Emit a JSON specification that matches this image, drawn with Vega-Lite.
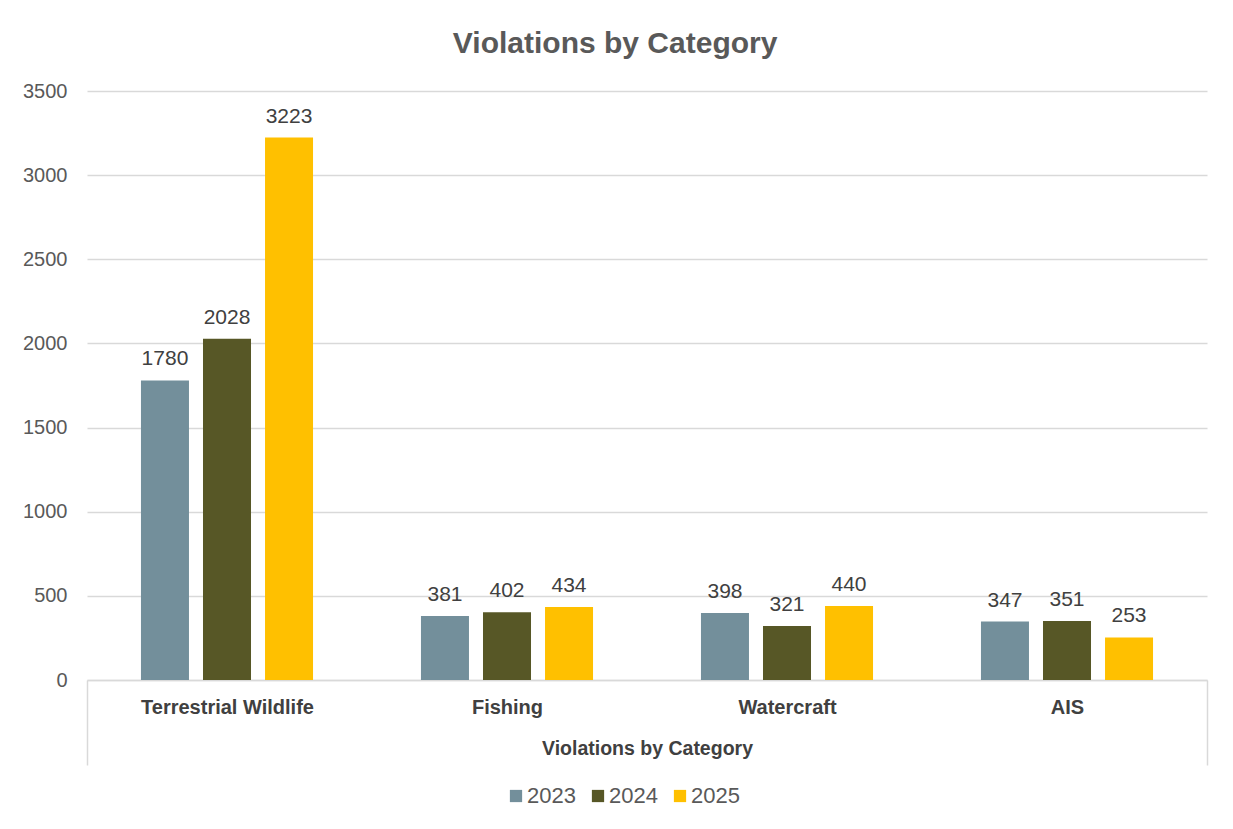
{
  "$schema": "https://vega.github.io/schema/vega-lite/v6.json",
  "width": 1120,
  "height": 589,
  "padding": {"left": 22, "top": 29, "right": 26, "bottom": 20},
  "background": "white",
  "title": {"text": "Violations by Category", "fontSize": 30, "font": "Liberation Sans", "fontWeight": "bold", "color": "#595959", "anchor": "middle", "frame": "bounds", "offset": 22},
  "config": {"view": {"stroke": null}, "font": "Liberation Sans"},
  "data": {"values": [
    {"category": "Terrestrial Wildlife", "year": "2023", "value": 1780},
    {"category": "Terrestrial Wildlife", "year": "2024", "value": 2028},
    {"category": "Terrestrial Wildlife", "year": "2025", "value": 3223},
    {"category": "Fishing", "year": "2023", "value": 381},
    {"category": "Fishing", "year": "2024", "value": 402},
    {"category": "Fishing", "year": "2025", "value": 434},
    {"category": "Watercraft", "year": "2023", "value": 398},
    {"category": "Watercraft", "year": "2024", "value": 321},
    {"category": "Watercraft", "year": "2025", "value": 440},
    {"category": "AIS", "year": "2023", "value": 347},
    {"category": "AIS", "year": "2024", "value": 351},
    {"category": "AIS", "year": "2025", "value": 253}
  ]},
  "encoding": {
    "x": {
      "field": "category", "type": "nominal",
      "sort": ["Terrestrial Wildlife", "Fishing", "Watercraft", "AIS"],
      "scale": {"paddingInner": 0, "paddingOuter": 0},
      "axis": {
        "title": "Violations by Category",
        "titleFontSize": 19.5, "titleFontWeight": "bold", "titleColor": "#404040",
        "titleY": 68, "titleBaseline": "middle",
        "labelAngle": 0, "labelFontSize": 20, "labelFontWeight": "bold", "labelColor": "#404040",
        "labelPadding": -68,
        "domainColor": "#d9d9d9", "domainWidth": 1.5,
        "ticks": true, "tickBand": "extent", "tickSize": 85, "tickWidth": 1.5,
        "tickColor": {"condition": {"test": "datum.index < 0 || datum.index === 1", "value": "#d9d9d9"}, "value": "transparent"},
        "grid": false
      }
    },
    "xOffset": {"field": "year", "type": "nominal", "scale": {"paddingInner": 0.226, "paddingOuter": 0.87}},
    "y": {
      "field": "value", "type": "quantitative",
      "scale": {"domain": [0, 3500], "nice": false},
      "axis": {
        "title": null, "values": [0, 500, 1000, 1500, 2000, 2500, 3000, 3500], "format": "d",
        "domain": false, "ticks": false, "grid": true, "gridColor": "#d9d9d9", "gridWidth": 1.5,
        "labelFontSize": 20, "labelColor": "#595959", "labelPadding": 20
      }
    }
  },
  "layer": [
    {
      "mark": {"type": "bar"},
      "encoding": {
        "color": {
          "field": "year", "type": "nominal",
          "scale": {"domain": ["2023", "2024", "2025"], "range": ["#738F9B", "#575726", "#FFC000"]},
          "legend": {
            "title": null, "orient": "none", "direction": "horizontal",
            "legendX": 418, "legendY": 694,
            "symbolType": "square", "symbolSize": 150, "symbolStrokeWidth": 0,
            "labelFontSize": 22, "labelColor": "#595959", "labelOffset": 0, "columnPadding": 11
          }
        }
      }
    },
    {
      "mark": {"type": "text", "baseline": "alphabetic", "dy": -15, "fontSize": 21, "color": "#404040"},
      "encoding": {"text": {"field": "value", "type": "quantitative"}}
    }
  ]
}
